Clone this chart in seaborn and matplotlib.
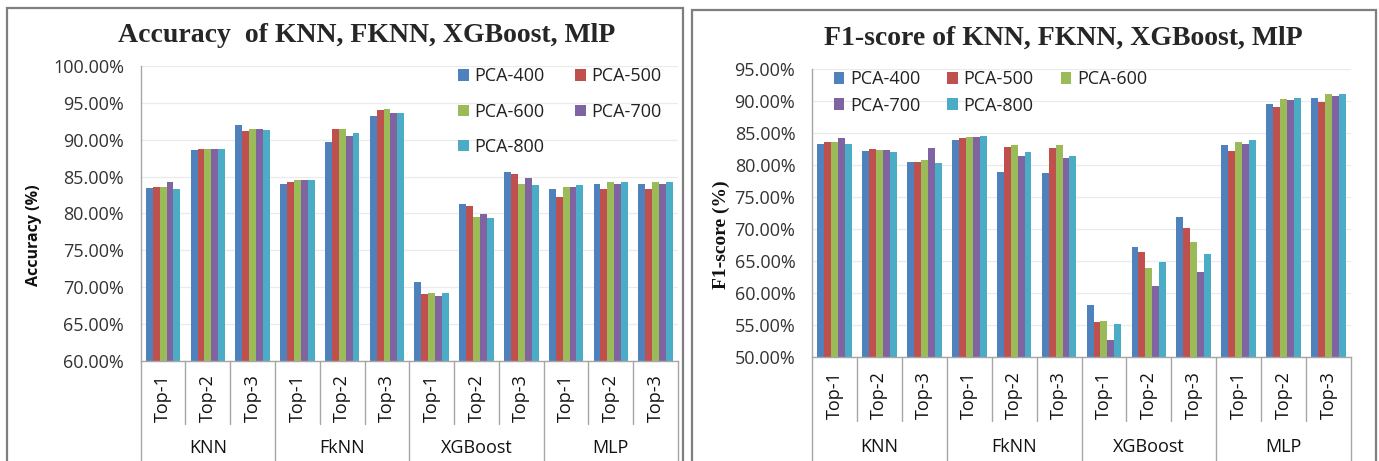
import matplotlib
matplotlib.use("Agg")
import matplotlib.pyplot as plt
import matplotlib.ticker as mticker
from matplotlib.patches import Rectangle
import seaborn as sns
import pandas as pd

# ---------------- data ----------------
groups = ["KNN", "FkNN", "XGBoost", "MLP"]
tops = ["Top-1", "Top-2", "Top-3"]
pcas = ["PCA-400", "PCA-500", "PCA-600", "PCA-700", "PCA-800"]
colors = ["#4F81BD", "#C0504D", "#9BBB59", "#8064A2", "#4BACC6"]

# Accuracy (%) : order KNN T1..T3, FkNN T1..T3, XGBoost T1..T3, MLP T1..T3
acc_pca400 = [83.42, 88.57, 92.01, 83.96, 89.66, 93.19, 70.72, 81.27, 85.63, 83.28, 84.05, 84.05]
acc_pca500 = [83.55, 88.71, 91.24, 84.19, 91.47, 94.00, 69.10, 81.00, 85.36, 82.24, 83.28, 83.28]
acc_pca600 = [83.64, 88.71, 91.47, 84.46, 91.47, 94.14, 69.23, 79.55, 84.05, 83.64, 84.19, 84.19]
acc_pca700 = [84.32, 88.71, 91.47, 84.46, 90.52, 93.64, 68.82, 79.91, 84.86, 83.55, 84.05, 84.05]
acc_pca800 = [83.28, 88.71, 91.33, 84.59, 90.93, 93.64, 69.23, 79.41, 83.91, 83.91, 84.32, 84.32]

# F1-score (%)
f1_pca400 = [83.34, 82.14, 80.47, 83.96, 78.96, 78.80, 58.13, 67.24, 71.82, 83.18, 89.58, 90.47]
f1_pca500 = [83.54, 82.50, 80.47, 84.27, 82.81, 82.65, 55.47, 66.46, 70.16, 82.14, 89.12, 89.90]
f1_pca600 = [83.65, 82.29, 80.78, 84.37, 83.07, 83.07, 55.62, 63.86, 68.02, 83.65, 90.31, 91.14]
f1_pca700 = [84.27, 82.29, 82.60, 84.37, 81.40, 81.14, 52.71, 61.14, 63.28, 83.34, 90.16, 90.78]
f1_pca800 = [83.34, 81.98, 80.31, 84.53, 82.03, 81.40, 55.16, 64.79, 66.14, 83.96, 90.47, 91.14]

acc_series = [acc_pca400, acc_pca500, acc_pca600, acc_pca700, acc_pca800]
f1_series = [f1_pca400, f1_pca500, f1_pca600, f1_pca700, f1_pca800]

cats = [f"{g} {t}" for g in groups for t in tops]


def make_df(series):
    rows = []
    for p, vals in zip(pcas, series):
        for c, v in zip(cats, vals):
            rows.append({"cat": c, "PCA": p, "value": v})
    return pd.DataFrame(rows)


sns.set_style("white")
plt.rcParams["font.family"] = ["Open Sans", "DejaVu Sans"]

W, H = 1379, 461
fig = plt.figure(figsize=(W / 100, H / 100), dpi=100)


def fx(px):
    return px / W


def fy(py):
    return 1 - py / H


TICK_COLOR = "#333333"
AXIS_COLOR = "#A6A6A6"


def draw_panel(ax, df, ylo, yhi, legend_order, legend_kw):
    sns.barplot(data=df, x="cat", y="value", hue="PCA", order=cats, hue_order=pcas,
                palette=colors, saturation=1, width=0.77, linewidth=0, ax=ax,
                errorbar=None)
    ax.set_ylim(ylo, yhi)
    ax.set_xlim(-0.5, len(cats) - 0.5)
    ax.yaxis.set_major_locator(mticker.MultipleLocator(5))
    ax.yaxis.set_major_formatter(mticker.FuncFormatter(lambda v, _: f"{v:.2f}%"))
    ax.set_axisbelow(True)
    ax.grid(axis="y", color="#EBEBEB", linewidth=0.9)
    ax.set_xlabel("")
    ax.set_ylabel("")
    for s in ["top", "right"]:
        ax.spines[s].set_visible(False)
    for s in ["left", "bottom"]:
        ax.spines[s].set_color(AXIS_COLOR)
        ax.spines[s].set_linewidth(1.0)
    ax.tick_params(axis="y", length=5, width=1, color=AXIS_COLOR, pad=7,
                   labelsize=13, labelcolor=TICK_COLOR)
    ax.set_xticks(range(len(cats)))
    ax.set_xticklabels([t for g in groups for t in tops], rotation=90)
    ax.tick_params(axis="x", length=0, pad=10, labelsize=13, labelcolor="#111111")
    handles, labels = ax.get_legend_handles_labels()
    lookup = dict(zip(labels, handles))
    leg = ax.legend([lookup[l] for l in legend_order], legend_order,
                    frameon=False, fontsize=13, handlelength=0.6, handleheight=0.6,
                    handletextpad=0.3, borderaxespad=0, borderpad=0, **legend_kw)
    for t in leg.get_texts():
        t.set_color("#222222")


def draw_multilevel(ax, inner_depth, group_label_y):
    trans = ax.get_xaxis_transform()
    n = len(cats)
    for i in range(n + 1):
        x = i - 0.5
        if i % 3 == 0:
            ax.plot([x, x], [0, -0.5], color=AXIS_COLOR, lw=1.0, transform=trans, clip_on=False)
        else:
            ax.plot([x, x], [0, -inner_depth], color=AXIS_COLOR, lw=1.0, transform=trans, clip_on=False)
    for gi, g in enumerate(groups):
        ax.text(gi * 3 + 1, group_label_y, g, transform=trans, ha="center", va="center",
                fontsize=13, color="#111111")


# ---------------- left panel ----------------
axL = fig.add_axes([fx(140.7), fy(360.7), fx(678 - 140.7), (360.7 - 66) / H])
draw_panel(axL, make_df(acc_series), 60, 100,
           ["PCA-400", "PCA-600", "PCA-800", "PCA-500", "PCA-700"],
           dict(loc="upper left", bbox_to_anchor=(0.59, 0.995), ncol=2,
                columnspacing=1.7, labelspacing=0.95))
draw_multilevel(axL, (424 - 360.7) / 294.7, -(448 - 360.7) / 294.7)

# ---------------- right panel ----------------
axR = fig.add_axes([fx(812), fy(357), fx(1351 - 812), (357 - 69) / H])
draw_panel(axR, make_df(f1_series), 50, 95,
           ["PCA-400", "PCA-700", "PCA-500", "PCA-800", "PCA-600"],
           dict(loc="upper left", bbox_to_anchor=(0.04, 0.995), ncol=3,
                columnspacing=1.5, labelspacing=0.45))
draw_multilevel(axR, (421 - 357) / 288, -(447 - 357) / 288)

# ---------------- titles, labels, frames ----------------
fig.text(fx(367), fy(35), "Accuracy  of KNN, FKNN, XGBoost, MlP", ha="center", va="center",
         fontsize=20, fontweight="bold", family=["Liberation Serif", "DejaVu Serif"])
fig.text(fx(1063), fy(38), "F1-score of KNN, FKNN, XGBoost, MlP", ha="center", va="center",
         fontsize=20, fontweight="bold", family=["Liberation Serif", "DejaVu Serif"])
fig.text(fx(34), fy(235), "Accuracy (%)", rotation=90, ha="center", va="center",
         fontsize=11.5, fontweight="bold", color="#111111")
fig.text(fx(721), fy(235), "F1-score (%)", rotation=90, ha="center", va="center",
         fontsize=14, fontweight="bold", color="#111111",
         family=["Liberation Serif", "DejaVu Serif"])

for (x0, y0, x1) in [(7, 8, 683), (692, 10, 1376)]:
    fig.patches.append(Rectangle((fx(x0), fy(480)), fx(x1 - x0), (480 - y0) / H,
                                 transform=fig.transFigure, fill=False,
                                 edgecolor="#7F7F7F", linewidth=1.6, clip_on=False))

fig.savefig("out.png", dpi=100)
